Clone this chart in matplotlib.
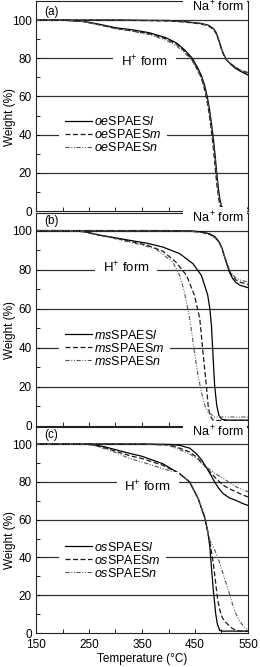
import matplotlib
matplotlib.use("Agg")
import matplotlib.pyplot as plt
from matplotlib.ticker import FixedLocator

plt.rcParams['font.family'] = ['Liberation Sans', 'DejaVu Sans']
plt.rcParams['mathtext.fontset'] = 'custom'
plt.rcParams['mathtext.rm'] = 'Liberation Sans'
plt.rcParams['mathtext.it'] = 'Liberation Sans:italic'
plt.rcParams['mathtext.bf'] = 'Liberation Sans:bold'
plt.rcParams['lines.scale_dashes'] = False

# ---------------- data ----------------
# Panel (a)
a_na_T = [150, 300, 400, 430, 460, 475, 485, 490, 495, 500, 505, 510, 517, 525, 535, 550]
a_na_l = [100, 100, 99.8, 99.2, 98.3, 97.4, 95.5, 93.5, 89.5, 85, 81.5, 79, 77, 75, 73.3, 71.2]
a_na_m = [100, 100, 99.5, 99, 98, 97, 95, 93, 89, 84.5, 81, 79, 77.2, 75.5, 73.8, 72.2]
a_na_n = [100, 100, 99.7, 99.1, 98.2, 97.2, 95.3, 93.2, 89.3, 84.8, 81.3, 79.2, 77.3, 75.6, 74, 72.6]

a_h_T_l = [150, 200, 240, 270, 300, 335, 365, 395, 415, 430, 445, 455, 462, 468, 473, 477, 481, 485, 488, 491, 494, 497, 500, 503, 510, 550]
a_h_l = [100, 100, 99.3, 97.8, 96, 94.8, 93.3, 90.8, 88, 84.5, 80, 75, 71, 66, 60, 54, 46, 37, 29, 20, 12, 6, 2.5, 1.6, 1.5, 1.5]
a_h_T_m = [150, 200, 240, 270, 300, 335, 365, 395, 415, 430, 445, 453, 460, 466, 471, 475, 479, 483, 486, 489, 492, 495, 498, 501, 510, 550]
a_h_m = [100, 100, 99.2, 97.5, 95.6, 94.2, 92.8, 90.2, 87.4, 83.8, 79.2, 75, 71, 66, 60, 54, 46, 37, 29, 20, 12, 6, 2.2, 1.2, 1.0, 1.0]
a_h_T_n = [150, 200, 240, 270, 300, 335, 365, 395, 415, 430, 445, 455, 462, 468, 473, 477, 481, 485, 488, 491, 494, 497, 500, 503, 510, 550]
a_h_n = [100, 100, 99.2, 97.4, 95.5, 94, 92.3, 89.5, 86.5, 83, 78.5, 73.5, 69.5, 64.5, 58.5, 52, 44, 35, 27, 18.5, 11, 5, 2, 1.2, 1.0, 1.0]

# Panel (b)
b_na_T = [150, 400, 446, 465, 478, 488, 496, 501, 505, 510, 515, 521, 527, 535, 550]
b_na_l = [100, 100, 99.8, 99.2, 98.3, 96.8, 94, 91, 87.2, 83, 78.7, 75.5, 73.5, 72, 70.8]
b_na_m = [100, 100, 99.6, 99, 98, 96.5, 93.8, 90.8, 87.3, 83.3, 79.3, 76.5, 74.8, 73.6, 72.5]
b_na_n = [100, 100, 99.5, 98.8, 97.8, 96.2, 93.5, 90.6, 87.4, 83.7, 80, 77.5, 75.8, 74.7, 73.7]

b_h_T_l = [150, 200, 240, 271, 300, 327, 360, 389, 421, 446, 462, 474, 478, 481, 484, 487, 491, 495, 500, 510, 550]
b_h_l = [100, 100, 99.5, 97.6, 96.3, 95, 93.5, 91.6, 88.2, 83.1, 77.1, 67, 60, 51.5, 36, 20.8, 10.6, 5.5, 3.5, 3, 3]
b_h_T_m = [150, 200, 240, 271, 300, 327, 360, 389, 414, 434, 449, 459, 465, 469, 472.5, 475, 478, 484, 490, 550]
b_h_m = [100, 100, 99.5, 97.6, 96.2, 94.5, 92.5, 89.5, 83.9, 77.1, 66.9, 55, 37.9, 27, 17.4, 10, 5.5, 3, 2.8, 2.8]
b_h_T_n = [150, 200, 240, 271, 300, 327, 350, 376, 408, 421, 430, 440, 449, 455, 462, 468, 474.5, 487, 550]
b_h_n = [100, 100, 99.4, 97.4, 95.8, 94, 92.6, 90.6, 83.9, 77.1, 68.6, 55, 37.9, 27, 17.4, 11, 7.2, 4.6, 4.6]

# Panel (c)
c_na_T = [150, 350, 400, 421, 440, 452, 462, 471, 480, 487, 495, 503, 515, 527, 540, 550]
c_na_l = [100, 100, 99.8, 99.3, 97.8, 95, 91.8, 87.8, 83.5, 79.9, 76.5, 73.8, 71.5, 70.2, 68.5, 67.5]
c_na_m = [100, 100, 99.5, 97.8, 95.8, 93.3, 90.5, 87.5, 84.8, 82.5, 80.3, 78.2, 76.3, 74.8, 73, 72]
c_na_n = [100, 100, 99.3, 97, 94.8, 92.4, 90, 88, 86, 84.6, 83.2, 81.9, 79.6, 77.4, 75.8, 74.8]

c_h_T_l = [150, 240, 257, 280, 300, 327, 350, 389, 421, 440, 456, 468, 474, 478, 481, 484, 487, 489, 492, 496.5, 500, 550]
c_h_l = [100, 100, 99.7, 98.5, 97, 95, 93.5, 89.6, 84.3, 79.9, 71.1, 61.4, 54, 45.5, 35, 24.3, 16, 10.3, 5, 1.4, 1, 1]
c_h_T_m = [150, 240, 257, 280, 300, 327, 350, 389, 421, 440, 456, 468, 478, 484, 487, 490, 493, 497, 501, 506, 514, 521, 534, 550]
c_h_m = [100, 100, 99.5, 98, 96.2, 93.8, 92.3, 88.8, 84.3, 79.9, 71.1, 61.4, 48, 38, 31.4, 24, 17.3, 12, 8.5, 6.2, 4, 2.3, 1, 1]
c_h_T_n = [150, 240, 257, 280, 300, 327, 350, 389, 421, 440, 456, 468, 478, 484, 490, 496, 503, 509, 515, 521, 527, 533, 540, 545, 550]
c_h_n = [100, 100, 99.4, 97.5, 95.5, 92.3, 90.5, 87, 84.3, 79.9, 71.1, 61.4, 49, 46, 42, 37.5, 31.4, 26, 20.8, 15, 10.3, 7, 4, 2.5, 1.8]

panel_tags = ['(a)', '(b)', '(c)']
prefixes = ['oe', 'ms', 'os']
suffixes = ['l', 'm', 'n']
x_major = [150, 250, 350, 450, 550]
x_minor = [200, 300, 400, 500]
y_major = [0, 20, 40, 60, 80, 100]
y_minor = [10, 30, 50, 70, 90]

panels = [
    dict(na_T=a_na_T, na=[a_na_l, a_na_m, a_na_n],
         hT=[a_h_T_l, a_h_T_m, a_h_T_n], h=[a_h_l, a_h_m, a_h_n],
         rect=[36, 1, 211], ytop=110, hpos=(355, 78.2), leg_y=0.363,
         tag_y=0.948, na_y=0.971),
    dict(na_T=b_na_T, na=[b_na_l, b_na_m, b_na_n],
         hT=[b_h_T_l, b_h_T_m, b_h_T_n], h=[b_h_l, b_h_m, b_h_n],
         rect=[36, 213, 426], ytop=109, hpos=(320, 80.7), leg_y=0.366,
         tag_y=0.962, na_y=0.977),
    dict(na_T=c_na_T, na=[c_na_l, c_na_m, c_na_n],
         hT=[c_h_T_l, c_h_T_m, c_h_T_n], h=[c_h_l, c_h_m, c_h_n],
         rect=[36, 427, 633], ytop=109, hpos=(361, 77.1), leg_y=0.354,
         tag_y=0.961, na_y=0.978),
]

W, H = 260, 667
fig = plt.figure(figsize=(W / 100, H / 100), dpi=100)

styles = [
    dict(color='black', lw=0.9, linestyle='-'),
    dict(color='#1a1a1a', lw=0.9, linestyle=(0, (3.6, 1.8))),
    dict(color='#555555', lw=0.8, linestyle=(0, (3.0, 1.2, 0.7, 1.2, 0.7, 1.2))),
]

fs = 8.5
fs_leg = 9
for i, p in enumerate(panels):
    left_px, top_px, bot_px = p['rect']
    ax = fig.add_axes([left_px / W, 1 - bot_px / H, 212 / W, (bot_px - top_px) / H])
    ax.set_xlim(150, 550)
    ax.set_ylim(0, p['ytop'])
    for yv in y_major[1:]:
        ax.axhline(yv, color='#333333', lw=0.9, zorder=1)
    handles = []
    for k in range(3):
        ax.plot(p['na_T'], p['na'][k], zorder=2, **styles[k])
        ln, = ax.plot(p['hT'][k], p['h'][k], zorder=2, **styles[k])
        handles.append(ln)
    labels = [r'$\mathit{%s}$SPAES$\mathit{%s}$' % (prefixes[i], s) for s in suffixes]
    leg = ax.legend(handles, labels, loc='center left', bbox_to_anchor=(0.108, p['leg_y']),
                    borderaxespad=0, borderpad=0.45, frameon=True, fancybox=False,
                    edgecolor='none', facecolor='white', framealpha=1,
                    handlelength=2.2, handletextpad=0.15, labelspacing=0.0, fontsize=fs_leg)
    leg.set_zorder(5)

    ax.text(p['hpos'][0], p['hpos'][1], r'H$^{+}$ form', ha='center', va='center', fontsize=9.5,
            zorder=4, bbox=dict(boxstyle='square,pad=0.6', fc='white', ec='none'))
    ax.text(0.98, p['na_y'], r'  Na$^{+}$ form', transform=ax.transAxes, ha='right', va='center',
            fontsize=9, zorder=6, clip_on=False,
            bbox=dict(boxstyle='square,pad=0.25', fc='white', ec='none'))
    ax.text(0.071, p['tag_y'], panel_tags[i], transform=ax.transAxes, ha='center', va='center',
            fontsize=fs, zorder=6)

    ax.xaxis.set_major_locator(FixedLocator(x_major))
    ax.xaxis.set_minor_locator(FixedLocator(x_minor))
    ax.yaxis.set_major_locator(FixedLocator(y_major))
    ax.yaxis.set_minor_locator(FixedLocator(y_minor))
    ax.tick_params(which='both', direction='in', length=3, width=0.6, labelsize=fs,
                   top=False, right=False)
    ax.tick_params(axis='y', pad=3)
    ax.tick_params(axis='x', pad=4.5)
    if i < 2:
        ax.tick_params(axis='x', labelbottom=False)
    else:
        ax.set_xlabel('Temperature (°C)', fontsize=fs, labelpad=1)
    ax.set_ylabel('Weight (%)', fontsize=fs)
    ax.yaxis.set_label_coords(-0.095, 0.45)
    for s in ax.spines.values():
        s.set_linewidth(0.8)
        s.set_color('#222222')

fig.savefig('out.png', dpi=100)
